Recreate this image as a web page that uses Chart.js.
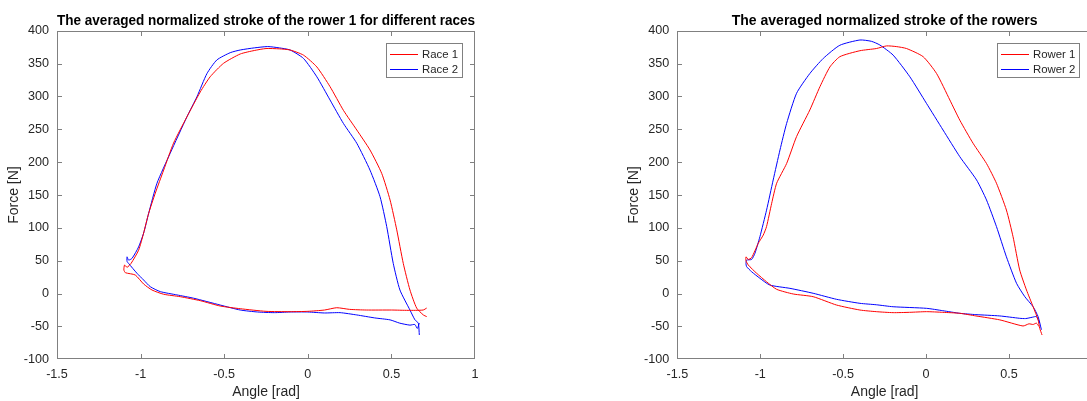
<!DOCTYPE html>
<html>
<head>
<meta charset="utf-8">
<script src="https://cdn.jsdelivr.net/npm/chart.js@4.4.1/dist/chart.umd.min.js"></script>
<style>
  html, body { margin: 0; padding: 0; background: #fff; overflow: hidden; }
  body { width: 1087px; height: 401px; position: relative; }
  .plot { position: absolute; top: 0; }
  #left { left: 0; }
  #right { left: 620px; }
</style>
</head>
<body>
<div class="plot" id="left"><canvas id="chartLeft" width="540" height="401"></canvas></div>
<div class="plot" id="right"><canvas id="chartRight" width="537" height="401"></canvas></div>
<script>
// tick positions (both plots share the same axes)
const xTicks = [-1.5, -1, -0.5, 0, 0.5, 1];
const yTicks = [-100, -50, 0, 50, 100, 150, 200, 250, 300, 350, 400];

// rower 1, race 1 (angle in rad, force in N), read along the stroke path
const race1Angle = [0.711, 0.69, 0.6, 0.5, 0.35, 0.25, 0.173, 0.1, 0, -0.106, -0.25, -0.404, -0.524, -0.643, -0.763, -0.862, -0.932, -0.982, -1.032, -1.091, -1.10, -1.096, -1.081, -1.057, -1.012, -0.982, -0.952, -0.912, -0.862, -0.803, -0.723, -0.643, -0.584, -0.504, -0.404, -0.32, -0.25, -0.17, -0.106, -0.026, 0.054, 0.133, 0.213, 0.293, 0.372, 0.442, 0.492, 0.532, 0.571, 0.611, 0.651, 0.691, 0.711];
const race1Force = [-22, -25, -25.5, -25, -25, -24, -21.5, -25, -27, -27.5, -27, -23, -18.9, -10.8, -4.7, -1, 5.5, 14.6, 28.3, 31.8, 36, 43.5, 40, 46, 66, 92, 122, 153, 188, 229, 269, 307, 330, 350.5, 364.7, 370, 373, 372.5, 370.8, 363, 345, 315, 279, 249, 218.6, 183, 142.5, 97, 46, 5.5, -22, -32.5, -35];

// rower 1, race 2
const race2Angle = [0.667, 0.655, 0.64, 0.611, 0.55, 0.492, 0.4, 0.293, 0.193, 0.1, 0, -0.106, -0.2, -0.3, -0.404, -0.524, -0.683, -0.783, -0.882, -0.942, -0.982, -1.022, -1.072, -1.081, -1.081, -1.072, -1.051, -1.012, -0.982, -0.952, -0.902, -0.823, -0.723, -0.663, -0.603, -0.544, -0.464, -0.404, -0.32, -0.24, -0.17, -0.106, -0.026, 0.054, 0.133, 0.213, 0.293, 0.372, 0.432, 0.472, 0.511, 0.551, 0.611, 0.641, 0.661, 0.667];
const race2Force = [-45, -53, -47, -48, -45, -40, -37, -32.5, -29, -29.5, -28, -28, -29, -28, -25, -17.4, -7, -2, 3, 10.5, 20.7, 31, 46, 49, 56, 51, 53.7, 71, 92, 122, 168, 213.6, 269, 299.7, 335, 355.6, 366.7, 370.8, 374, 376, 374, 370.8, 358, 330, 294.7, 259, 228.8, 188, 147.5, 102, 46, 5.5, -25, -40, -45, -63];

// rower 1 averaged
const rower1Angle = [0.68, 0.665, 0.645, 0.62, 0.584, 0.444, 0.3, 0.203, 0.1, 0.002, -0.1, -0.199, -0.3, -0.399, -0.54, -0.681, -0.801, -0.901, -0.962, -1.022, -1.072, -1.086, -1.086, -1.072, -1.052, -1.012, -0.982, -0.962, -0.931, -0.901, -0.841, -0.781, -0.701, -0.64, -0.58, -0.52, -0.399, -0.3, -0.239, -0.18, -0.118, -0.018, 0.063, 0.143, 0.203, 0.283, 0.364, 0.424, 0.484, 0.524, 0.564, 0.605, 0.645, 0.675, 0.685, 0.699];
const rower1Force = [-50, -45, -47, -46, -49.3, -40, -34, -30, -28.5, -27.5, -28.5, -29, -27.5, -25, -17.4, -4.7, -0.6, 6.5, 18, 31, 43.5, 50, 56, 52, 54.7, 76.5, 89, 102, 137.5, 168, 198, 239, 279.5, 315, 345, 360.6, 369.7, 373, 377, 376, 373, 360.6, 335, 294.7, 264, 228.8, 198, 168, 127.2, 86.6, 36, 5.5, -20, -40, -53, -63];

// rower 2 averaged
const rower2Angle = [0.685, 0.665, 0.64, 0.6, 0.564, 0.444, 0.3, 0.203, 0.1, 0.002, -0.199, -0.3, -0.399, -0.54, -0.681, -0.821, -0.942, -1.002, -1.052, -1.082, -1.086, -1.082, -1.052, -1.032, -1.002, -0.962, -0.922, -0.881, -0.841, -0.781, -0.701, -0.62, -0.52, -0.399, -0.33, -0.279, -0.199, -0.098, 0.002, 0.102, 0.203, 0.304, 0.364, 0.424, 0.484, 0.545, 0.595, 0.645, 0.675, 0.695];
const rower2Force = [-45, -35, -36, -38, -37.6, -34, -32, -30, -26, -22.4, -20, -17, -14.8, -8.7, 0.5, 8, 13, 23.3, 33.3, 41, 46, 51, 52, 61.3, 86.6, 127, 172.9, 218.6, 259, 304.9, 335, 358, 378, 386, 384, 378.4, 363, 330, 289.6, 249, 208.4, 173, 142.5, 102, 56, 15.7, -4.7, -20, -35, -55];

const FONT = '"Liberation Sans", Arial, Helvetica, sans-serif';
const TEXT = "#262626";
const AXIS = "#808080";

function toPoints(xs, ys) {
  return xs.map((x, i) => ({ x: x, y: ys[i] }));
}

// MATLAB style box with inward ticks and a boxed legend in the top right corner
const matlabBox = {
  id: "matlabBox",
  afterDraw(chart) {
    const ctx = chart.ctx;
    const a = chart.chartArea;
    const sx = chart.scales.x, sy = chart.scales.y;
    const L = Math.round(a.left), R = Math.round(a.right) - 1;
    const T = Math.round(a.top), B = Math.round(a.bottom) - 1;
    ctx.save();
    ctx.fillStyle = AXIS;
    ctx.fillRect(L, T, R - L + 1, 1);
    ctx.fillRect(L, B, R - L + 1, 1);
    ctx.fillRect(L, T, 1, B - T + 1);
    ctx.fillRect(R, T, 1, B - T + 1);
    xTicks.forEach(v => {
      const p = Math.min(R, Math.round(sx.getPixelForValue(v)));
      ctx.fillRect(p, B - 4, 1, 4);
      ctx.fillRect(p, T + 1, 1, 4);
    });
    yTicks.forEach(v => {
      const p = Math.min(B, Math.round(sy.getPixelForValue(v)));
      ctx.fillRect(L + 1, p, 4, 1);
      ctx.fillRect(R - 4, p, 4, 1);
    });

    // legend
    const sets = chart.data.datasets;
    ctx.font = "11.4px " + FONT;
    const tw = Math.max(...sets.map(d => ctx.measureText(d.label).width));
    const w = Math.round(tw + 40), h = 34;
    const bx = Math.round(R - 12 - w), by = T + 12;
    ctx.fillStyle = "#fff";
    ctx.fillRect(bx, by, w, h);
    ctx.fillStyle = AXIS;
    ctx.fillRect(bx, by, w, 1);
    ctx.fillRect(bx, by + h, w + 1, 1);
    ctx.fillRect(bx, by, 1, h);
    ctx.fillRect(bx + w, by, 1, h);
    sets.forEach((d, i) => {
      const yy = Math.round(by + 10.6 + i * 15.4);
      ctx.fillStyle = d.borderColor;
      ctx.fillRect(bx + 4, yy, 28, 1);
      ctx.fillStyle = TEXT;
      ctx.textBaseline = "middle";
      ctx.fillText(d.label, bx + 36, yy + 0.5);
    });
    ctx.restore();
  }
};

function drawStroke(id, title, series, yAxisWidth) {
  return new Chart(document.getElementById(id), {
    type: "scatter",
    data: {
      datasets: series.map(s => ({
        label: s.label,
        data: toPoints(s.x, s.y),
        showLine: true,
        borderColor: s.color,
        backgroundColor: s.color,
        borderWidth: 1,
        pointRadius: 0,
        tension: 0.2
      }))
    },
    options: {
      responsive: false,
      animation: false,
      layout: { padding: { left: 0, right: 65, top: 0, bottom: 0 } },
      plugins: {
        legend: { display: false },
        tooltip: { enabled: false },
        title: {
          display: true,
          text: title,
          fullSize: false,
          color: "#000",
          font: { family: FONT, size: 14, weight: "bold" },
          padding: { top: 12.5, bottom: 1.5 }
        }
      },
      scales: {
        x: {
          type: "linear",
          min: -1.5,
          max: 1,
          afterBuildTicks: s => { s.ticks = xTicks.map(v => ({ value: v })); },
          afterFit: s => { s.height = 41.7; },
          grid: { display: false, drawTicks: false },
          border: { display: false },
          ticks: { padding: 8, color: TEXT, font: { family: FONT, size: 12.6 }, maxRotation: 0, autoSkip: false, callback: v => String(v) },
          title: { display: true, text: "Angle [rad]", color: TEXT, font: { family: FONT, size: 14 }, padding: { top: 0, bottom: 0 } }
        },
        y: {
          type: "linear",
          min: -100,
          max: 400,
          afterBuildTicks: s => { s.ticks = yTicks.map(v => ({ value: v })); },
          afterFit: s => { s.width = yAxisWidth; },
          grid: { display: false, drawTicks: false },
          border: { display: false },
          ticks: { padding: 8, color: TEXT, font: { family: FONT, size: 12.6 }, autoSkip: false, callback: v => String(v) },
          title: { display: true, text: "Force [N]", color: TEXT, font: { family: FONT, size: 14 }, padding: { top: 6, bottom: 0 } }
        }
      }
    },
    plugins: [matlabBox]
  });
}

drawStroke("chartLeft", "The averaged normalized stroke of the rower 1 for different races", [
  { label: "Race 1", x: race1Angle, y: race1Force, color: "#ff0000" },
  { label: "Race 2", x: race2Angle, y: race2Force, color: "#0000ff" }
], 57);

drawStroke("chartRight", "The averaged normalized stroke of the rowers", [
  { label: "Rower 1", x: rower1Angle, y: rower1Force, color: "#ff0000" },
  { label: "Rower 2", x: rower2Angle, y: rower2Force, color: "#0000ff" }
], 57.3);
</script>
</body>
</html>
